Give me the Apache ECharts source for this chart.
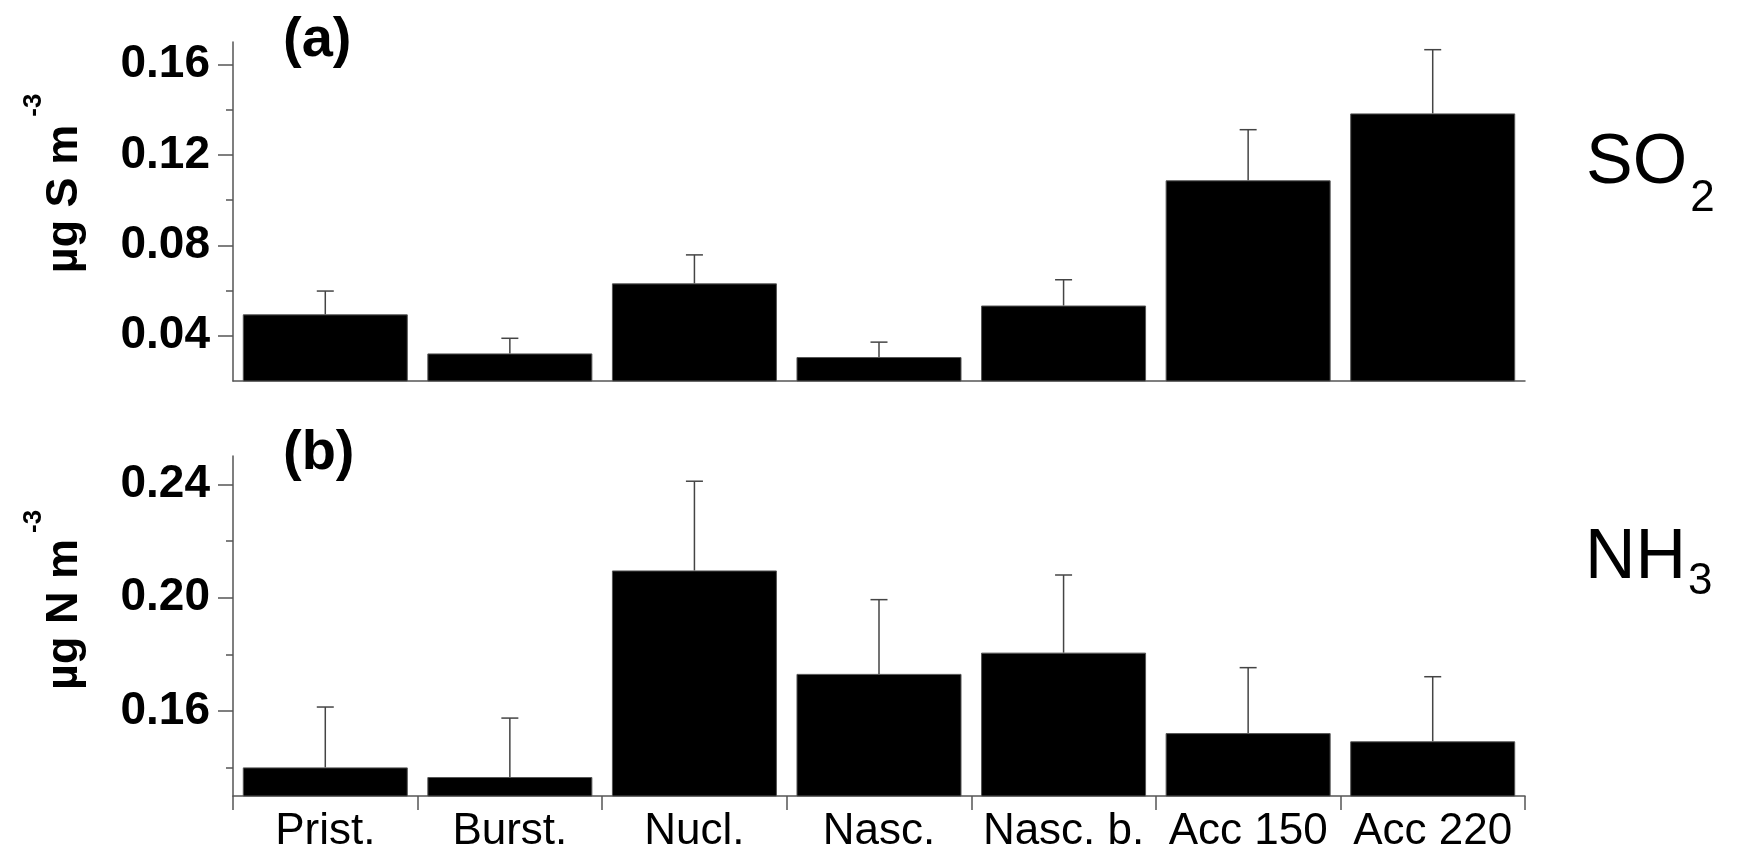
<!DOCTYPE html>
<html>
<head>
<meta charset="utf-8">
<script src="https://cdn.jsdelivr.net/npm/echarts@6/dist/echarts.min.js"></script>
<style>
html,body{margin:0;padding:0;background:#fff;}
#chart{width:1741px;height:865px;}
</style>
</head>
<body>
<div id="chart"></div>
<script>
const categories = ['Prist.', 'Burst.', 'Nucl.', 'Nasc.', 'Nasc. b.', 'Acc 150', 'Acc 220'];
const so2Values = [0.0495, 0.0322, 0.0632, 0.0306, 0.0534, 0.1088, 0.1384];
const so2Errors = [0.0103, 0.0067, 0.0126, 0.0066, 0.0114, 0.0224, 0.0282];
const nh3Values = [0.1401, 0.1367, 0.2096, 0.1731, 0.1806, 0.1522, 0.1493];
const nh3Errors = [0.0213, 0.0208, 0.0315, 0.0262, 0.0274, 0.0231, 0.0228];
const so2MajorTicks = [0.04, 0.08, 0.12, 0.16];
const so2MinorTicks = [0.06, 0.10, 0.14];
const nh3MajorTicks = [0.16, 0.20, 0.24];
const nh3MinorTicks = [0.14, 0.18, 0.22];

const FONT = "'Liberation Sans', Arial, sans-serif";
const AX = '#555';
const chart = echarts.init(document.getElementById('chart'));

const measureCtx = document.createElement('canvas').getContext('2d');
function textWidth(txt, font) { measureCtx.font = font; return measureCtx.measureText(txt).width; }

function errRender(params, api) {
  const x = api.value(0), v = api.value(1), e = api.value(2);
  const p0 = api.coord([x, v]);
  const p1 = api.coord([x, v + e]);
  const st = { stroke: '#444', lineWidth: 1.5 };
  return {
    type: 'group',
    children: [
      { type: 'line', shape: { x1: p0[0], y1: p0[1], x2: p1[0], y2: p1[1] }, style: st },
      { type: 'line', shape: { x1: p1[0] - 8.5, y1: p1[1], x2: p1[0] + 8.5, y2: p1[1] }, style: st }
    ]
  };
}

function yMain(min, max, majors, gridIndex) {
  return {
    type: 'value', gridIndex: gridIndex, min: min, max: max, position: 'left',
    axisLine: { show: true, lineStyle: { color: AX, width: 1.5 } },
    axisTick: { show: true, length: 15, customValues: majors, lineStyle: { color: AX, width: 1.5 } },
    axisLabel: {
      show: true, customValues: majors, margin: 23,
      fontFamily: FONT, fontSize: 46, fontWeight: 'bold', color: '#000',
      formatter: v => v.toFixed(2)
    },
    splitLine: { show: false }
  };
}
function yMinor(min, max, minors, gridIndex) {
  return {
    type: 'value', gridIndex: gridIndex, min: min, max: max, position: 'left', offset: 0,
    axisLine: { show: false },
    axisTick: { show: true, length: 7, customValues: minors, lineStyle: { color: AX, width: 1.5 } },
    axisLabel: { show: false },
    splitLine: { show: false }
  };
}

const bigFont = '70px ' + FONT;
const subFont = '44px ' + FONT;
const soX = 1586, nhX = 1585;
const soSubX = soX + textWidth('SO', bigFont) + 3;
const nhSubX = nhX + textWidth('NH', bigFont) + 2;

const option = {
  backgroundColor: '#fff',
  animation: false,
  grid: [
    { left: 233, top: 42, width: 1292, height: 339 },
    { left: 233, top: 456, width: 1292, height: 340 }
  ],
  xAxis: [
    {
      type: 'category', gridIndex: 0, data: categories,
      axisLine: { show: true, lineStyle: { color: AX, width: 1.5 } },
      axisTick: { show: false }, axisLabel: { show: false }
    },
    {
      type: 'category', gridIndex: 1, data: categories,
      axisLine: { show: true, lineStyle: { color: AX, width: 1.5 } },
      axisTick: { show: true, interval: 0, length: 14, lineStyle: { color: AX, width: 1.5 } },
      axisLabel: { show: true, interval: 0, margin: 14, fontFamily: FONT, fontSize: 44, color: '#000' }
    }
  ],
  yAxis: [
    yMain(0.02, 0.17, so2MajorTicks, 0),
    yMinor(0.02, 0.17, so2MinorTicks, 0),
    yMain(0.13, 0.25, nh3MajorTicks, 1),
    yMinor(0.13, 0.25, nh3MinorTicks, 1)
  ],
  series: [
    {
      type: 'bar', xAxisIndex: 0, yAxisIndex: 0, data: so2Values, barCategoryGap: '10.6%',
      itemStyle: { color: '#000', borderColor: '#555', borderWidth: 1 }, z: 2
    },
    {
      type: 'custom', xAxisIndex: 0, yAxisIndex: 0, renderItem: errRender, z: 3,
      encode: { x: 0, y: 1 },
      data: so2Values.map((v, i) => [i, v, so2Errors[i]])
    },
    {
      type: 'bar', xAxisIndex: 1, yAxisIndex: 2, data: nh3Values, barCategoryGap: '10.6%',
      itemStyle: { color: '#000', borderColor: '#555', borderWidth: 1 }, z: 2
    },
    {
      type: 'custom', xAxisIndex: 1, yAxisIndex: 2, renderItem: errRender, z: 3,
      encode: { x: 0, y: 1 },
      data: nh3Values.map((v, i) => [i, v, nh3Errors[i]])
    }
  ],
  graphic: [
    { type: 'text', x: 283, y: 41, style: { text: '(a)', font: 'bold 56px ' + FONT, fill: '#000', textAlign: 'left', textVerticalAlign: 'middle' } },
    { type: 'text', x: 283, y: 453.6, style: { text: '(b)', font: 'bold 56px ' + FONT, fill: '#000', textAlign: 'left', textVerticalAlign: 'middle' } },
    { type: 'text', x: 64.4, y: 273.3, rotation: Math.PI / 2, style: { text: 'µg S m', font: 'bold 45px ' + FONT, fill: '#000', textAlign: 'left', textVerticalAlign: 'middle' } },
    { type: 'text', x: 34, y: 116.7, rotation: Math.PI / 2, style: { text: '-3', font: 'bold 26px ' + FONT, fill: '#000', textAlign: 'left', textVerticalAlign: 'middle' } },
    { type: 'text', x: 64.4, y: 690, rotation: Math.PI / 2, style: { text: 'µg N m', font: 'bold 45px ' + FONT, fill: '#000', textAlign: 'left', textVerticalAlign: 'middle' } },
    { type: 'text', x: 34, y: 533, rotation: Math.PI / 2, style: { text: '-3', font: 'bold 26px ' + FONT, fill: '#000', textAlign: 'left', textVerticalAlign: 'middle' } },
    { type: 'text', x: soX, y: 164.2, style: { text: 'SO', font: bigFont, fill: '#000', textAlign: 'left', textVerticalAlign: 'middle' } },
    { type: 'text', x: soSubX, y: 198.8, style: { text: '2', font: subFont, fill: '#000', textAlign: 'left', textVerticalAlign: 'middle' } },
    { type: 'text', x: nhX, y: 558.4, style: { text: 'NH', font: bigFont, fill: '#000', textAlign: 'left', textVerticalAlign: 'middle' } },
    { type: 'text', x: nhSubX, y: 582, style: { text: '3', font: subFont, fill: '#000', textAlign: 'left', textVerticalAlign: 'middle' } }
  ]
};
chart.setOption(option);
</script>
</body>
</html>
